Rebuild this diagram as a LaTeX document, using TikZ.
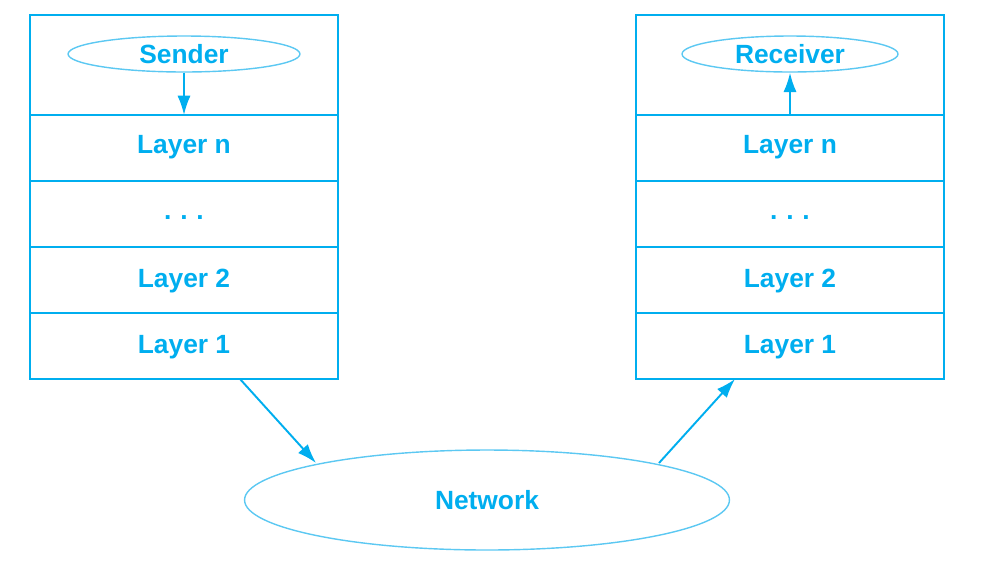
\documentclass[tikz,border=0pt]{standalone}
\usepackage{fontspec}
\setmainfont{Liberation Sans}
\usetikzlibrary{shapes.geometric,arrows.meta}
\definecolor{cy}{HTML}{00AEEF}
\definecolor{cyl}{HTML}{5CC8F2}
\tikzset{
  lbl/.style={font=\fontsize{15}{18}\selectfont\bfseries, text=cy},
  box/.style={draw=cy, line width=1.1pt},
  oval/.style={draw=cyl, line width=0.8pt, ellipse, inner sep=0pt, lbl},
  arr/.style={draw=cy, line width=1.1pt, -{Latex[length=11pt,width=7.5pt]}},
}
\begin{document}
\begin{tikzpicture}[x=0.02cm,y=-0.02cm]
\useasboundingbox (0,0) rectangle (986,566);
\foreach \xo in {0,606}{
  \draw[box] (30+\xo,15) rectangle (338+\xo,379);
  \foreach \yy in {115,181,247,313} \draw[box] (30+\xo,\yy) -- (338+\xo,\yy);
}
\node[oval, minimum width=4.64cm, minimum height=0.72cm] (snd) at (184,54) {Sender};
\node[oval, minimum width=4.32cm, minimum height=0.72cm] (rcv) at (790,54) {Receiver};
\node[lbl] (ln) at (184,147) {Layer n};
\node[lbl] (ld) at (184,218) {.\,\,.\,\,.};
\node[lbl] (l2) at (184,281) {Layer 2};
\node[lbl] (l1) at (184,347) {Layer 1};
\node[lbl] (rn) at (790,147) {Layer n};
\node[lbl] (rd) at (790,218) {.\,\,.\,\,.};
\node[lbl] (r2) at (790,281) {Layer 2};
\node[lbl] (r1) at (790,347) {Layer 1};
\node[oval, minimum width=9.7cm, minimum height=2.0cm] (net) at (487,500) {Network};
\coordinate (sb) at (184,115);
\coordinate (rb) at (790,115);
\coordinate (lbot) at (240,379);
\coordinate (rbot) at (735,379);
\coordinate (nl) at (316,463);
\coordinate (nr) at (659,463);
\draw[arr] (snd.south) -- (sb);
\draw[arr] (rb) -- (rcv.south);
\draw[arr] (lbot) -- (nl);
\draw[arr] (nr) -- (rbot);
\end{tikzpicture}
\end{document}
